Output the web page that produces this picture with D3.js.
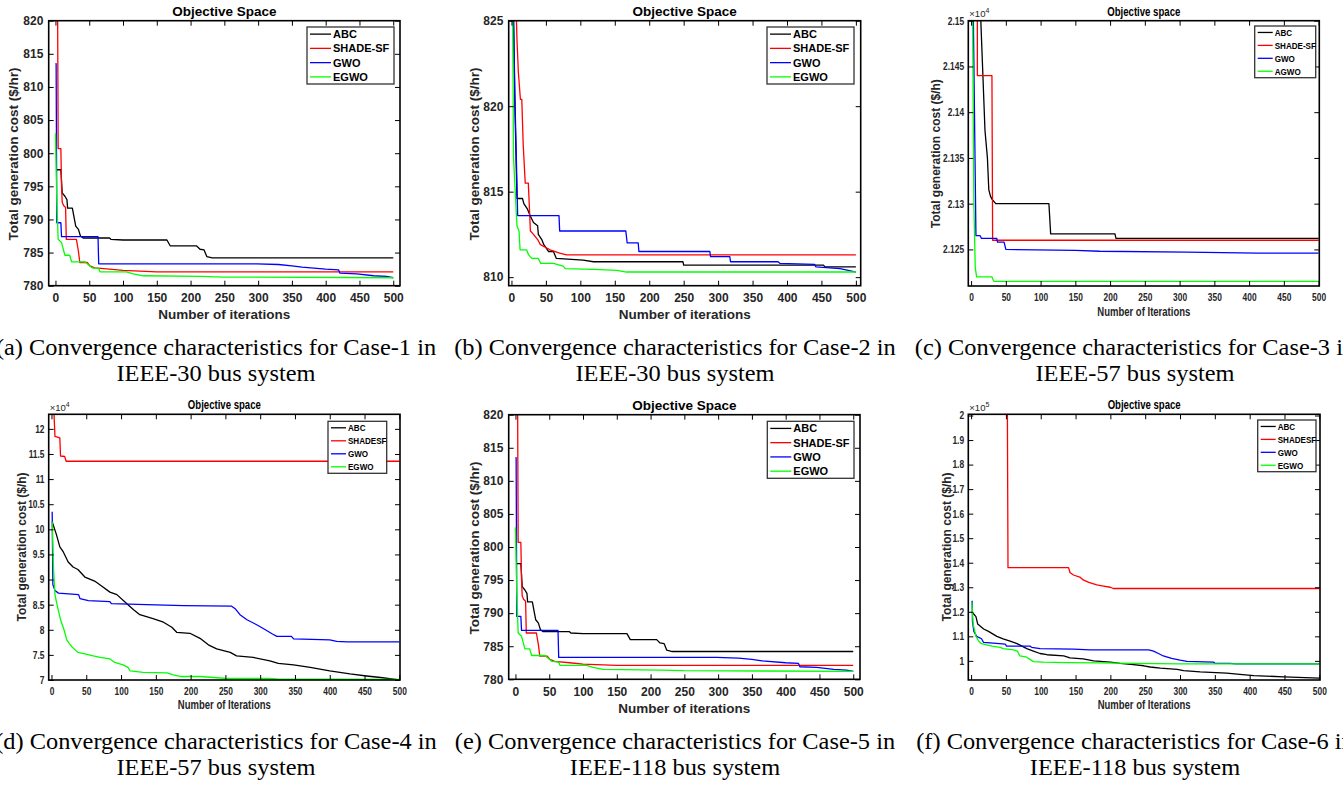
<!DOCTYPE html>
<html>
<head>
<meta charset="utf-8">
<script src="https://cdn.jsdelivr.net/npm/d3@7"></script>
<style>
  body { margin: 0; background: #fff; }
  svg { display: block; }
</style>
</head>
<body>
<div id="fig"></div>
<script>
// ---- data: [iteration, cost] ----
const colors = ["#000000", "#ff0000", "#0000ff", "#00ff00"];
const xTicks = [0, 50, 100, 150, 200, 250, 300, 350, 400, 450, 500];

// Case-1, IEEE-30
const case1ABC = [[1, 797.5], [8, 797.5], [10, 794], [14, 793.5], [17, 793], [18, 791.7], [25, 791.7], [30, 789], [34, 788.5], [37, 787.5], [41, 787.2], [80, 787.2], [82, 787.0], [100, 786.9], [165, 786.9], [170, 786.0], [209, 786.0], [214, 785.5], [220, 785.4], [224, 784.4], [232, 784.2], [500, 784.2]];
const case1SHADE = [[2.5, 840], [4, 800.7], [8, 800.7], [9, 795], [10, 792.6], [12, 792.1], [15, 791.8], [16, 787], [31, 787], [34, 785.2], [36, 783.5], [47, 783.5], [51, 783], [58, 782.7], [80, 782.5], [100, 782.3], [150, 782.1], [500, 782.1]];
const case1GWO = [[0, 813.5], [1, 813.5], [2, 789.5], [8, 789.5], [9, 787.4], [63, 787.4], [64, 783.3], [298, 783.3], [330, 783.2], [350, 783.0], [365, 782.8], [400, 782.5], [419, 782.4], [421, 781.9], [446, 781.8], [471, 781.5], [490, 781.4], [500, 781.2]];
const case1EGWO = [[0, 803], [2, 793], [4, 787], [9, 786.5], [14, 784.6], [21, 784.6], [24, 783.6], [44, 783.6], [47, 783.3], [54, 782.7], [64, 782.6], [66, 782.1], [105, 782.1], [115, 781.8], [130, 781.5], [214, 781.4], [249, 781.3], [500, 781.2]];
const case1Ticks = [780, 785, 790, 795, 800, 805, 810, 815, 820];

// Case-2, IEEE-30
const case2ABC = [[1, 830], [5, 820], [8, 814.6], [16, 814.6], [18, 814.3], [23, 814], [27, 813.6], [32, 813.2], [38, 813], [39, 812.5], [44, 812.2], [47, 811.9], [54, 811.5], [61, 811.5], [65, 811.1], [104, 811.0], [119, 810.9], [249, 810.9], [250, 810.7], [453, 810.7], [455, 810.6], [500, 810.6]];
const case2SHADE = [[4, 830], [8, 823.9], [10, 822], [13, 820.4], [15, 820.4], [17, 817.8], [20, 815.5], [24.5, 815.5], [27.5, 812.7], [32, 812.5], [38, 812.2], [42, 811.9], [56, 811.6], [70, 811.4], [80, 811.3], [500, 811.3]];
const case2GWO = [[1, 830], [5, 820.6], [9, 813.6], [69, 813.6], [70, 812.7], [166, 812.7], [168, 812.0], [184, 812.0], [185, 811.5], [288, 811.5], [289, 811.2], [317, 811.2], [318, 810.9], [387, 810.9], [390, 810.8], [440, 810.75], [442, 810.6], [477, 810.5], [489, 810.4], [500, 810.3]];
const case2EGWO = [[1, 830], [3, 817], [8, 813], [11, 812.7], [12.5, 811.6], [22, 811.6], [25, 811.3], [29.5, 811.1], [39, 811.1], [42.5, 810.8], [61, 810.8], [75, 810.65], [78, 810.5], [119, 810.45], [153, 810.4], [167, 810.3], [500, 810.3]];
const case2Ticks = [810, 815, 820, 825];

// Case-3, IEEE-57
const case3ABC = [[13, 21520], [15, 21480], [17, 21440], [20, 21380], [23.5, 21350], [25.5, 21315], [28, 21308], [30, 21305], [35.5, 21300], [112, 21300], [114.5, 21267], [207, 21267], [208.5, 21262], [500, 21262]];
const case3SHADE = [[9, 21520], [9, 21440], [30, 21440], [31, 21260], [500, 21260]];
const case3GWO = [[3, 21520], [7, 21265], [13, 21265], [15, 21262], [37, 21262], [38, 21258], [47.5, 21258], [50, 21250], [150, 21249], [185, 21248], [310, 21247], [413, 21246], [500, 21246]];
const case3AGWO = [[2, 21520], [4, 21300], [6, 21230], [8, 21220], [30, 21220], [31, 21218], [33, 21215], [500, 21215]];
const case3Ticks = [21250, 21300, 21350, 21400, 21450, 21500];

// Case-4, IEEE-57
const case4ABC = [[1, 101500], [7, 99000], [12, 96500], [17, 95500], [24, 93500], [31, 92500], [38, 92000], [48, 90500], [62, 89700], [72, 88700], [84, 87500], [94, 87000], [106, 85500], [118, 84000], [127, 83000], [146, 82200], [161, 81500], [173, 80500], [180, 79500], [199, 79300], [213.5, 78300], [225.5, 77000], [237.5, 76200], [257, 75500], [266, 74800], [290, 74500], [314, 73800], [326, 73300], [348, 73000], [372, 72500], [400, 71800], [429, 71200], [453, 70800], [473, 70500], [500, 70000]];
const case4SHADE = [[3, 125000], [5, 118500], [12, 118200], [13, 114600], [19, 114500], [21, 113550], [500, 113550]];
const case4GWO = [[1, 103500], [2, 89000], [5, 87800], [10, 87300], [39, 87000], [41, 86200], [53, 85800], [84, 85600], [86, 85200], [137, 85000], [190, 84800], [259, 84700], [264, 84200], [271, 83000], [281, 82000], [295, 81000], [305, 80200], [317, 79200], [324, 78700], [345, 78700], [348, 78200], [400, 78000], [410, 77700], [425, 77600], [500, 77600]];
const case4EGWO = [[1, 101500], [3, 92000], [5, 87000], [8, 85000], [13, 82000], [18, 80000], [22, 78000], [26, 77200], [30, 76500], [34, 76000], [38, 75500], [48, 75200], [60, 74800], [70, 74500], [84, 74200], [91, 73500], [103, 73000], [110, 72500], [113, 71800], [132, 71500], [166, 71400], [175, 71000], [185, 70700], [214, 70700], [233, 70500], [252, 70300], [310, 70300], [324, 70200], [500, 70100]];
const case4Ticks = [70000, 75000, 80000, 85000, 90000, 95000, 100000, 105000, 110000, 115000, 120000];

// Case-5, IEEE-118 (same curves as case-1 in the picture)
const case5ABC = case1ABC;
const case5SHADE = case1SHADE;
const case5GWO = case1GWO;
const case5EGWO = case1EGWO;

// Case-6, IEEE-118
const case6ABC = [[1, 120000], [7, 118000], [9.5, 115000], [18, 113000], [25, 112000], [37, 110000], [46, 109000], [56, 108000], [66, 107000], [73, 106000], [80, 105000], [89.5, 104000], [99, 103000], [109, 102500], [133, 102000], [142, 101200], [161, 100800], [176, 100000], [200, 99500], [214, 99000], [233, 98500], [248, 98000], [257, 97500], [272, 97000], [296, 96500], [305, 96000], [329, 95500], [367, 95000], [386, 94500], [406, 94000], [449, 93500], [500, 93000]];
const case6SHADE = [[52, 210000], [53, 138000], [140, 138000], [142, 136000], [147, 135000], [157, 134000], [161, 133000], [169, 132000], [180.5, 131000], [190, 130500], [200, 130000], [204, 129500], [500, 129500]];
const case6GWO = [[1.5, 124500], [2, 116000], [4, 112000], [8, 110000], [15, 109000], [18, 107500], [32, 107200], [49, 106800], [51, 106000], [85, 106000], [87, 105500], [99, 105000], [147, 104800], [171, 104500], [255, 104500], [262, 104000], [269, 103000], [276, 102000], [288, 101000], [300, 100300], [310, 99800], [348, 99500], [350, 99000], [372, 99000], [380, 98800], [500, 98800]];
const case6EGWO = [[1, 124000], [3, 115000], [7, 110000], [11, 108000], [15, 107000], [22.5, 106500], [30, 106000], [42, 105500], [46, 105000], [61, 104500], [66.5, 104000], [70, 102000], [80, 101500], [85, 100500], [89.5, 99700], [104, 99500], [137, 99300], [185, 99200], [233, 99000], [300, 98800], [500, 98800]];
const case6Ticks = [100000, 110000, 120000, 130000, 140000, 150000, 160000, 170000, 180000, 190000, 200000];

const captions = [
  ["(a) Convergence characteristics for Case-1 in", "IEEE-30 bus system"],
  ["(b) Convergence characteristics for Case-2 in", "IEEE-30 bus system"],
  ["(c) Convergence characteristics for Case-3 in", "IEEE-57 bus system"],
  ["(d) Convergence characteristics for Case-4 in", "IEEE-57 bus system"],
  ["(e) Convergence characteristics for Case-5 in", "IEEE-118 bus system"],
  ["(f) Convergence characteristics for Case-6 in", "IEEE-118 bus system"]
];

// ---- layout of each panel ----
const big = { tick: 12, lab: 13.5, leg: 11, sx: 1, yPad: 5.4, legLine: 21 };
const small = { tick: 10.5, lab: 12.5, leg: 9.5, sx: 0.8, yPad: 4.2, legLine: 15 };

const panels = [
  { series: [case1ABC, case1SHADE, case1GWO, case1EGWO], names: ["ABC", "SHADE-SF", "GWO", "EGWO"],
    L: 48.7, T: 20.7, R: 400, B: 285.7, xDom: [-10, 510], yDom: [780, 820], yTicks: case1Ticks, fmt: d3.format("d"),
    title: "Objective Space", xlab: "Number of iterations", ylab: "Total generation cost ($/hr)",
    titleY: 15.5, xlabY: 319, ylabX: 13.5, ylabY: 154, xPad: 7.5, leg: [307, 27, 394, 84], st: big },
  { series: [case2ABC, case2SHADE, case2GWO, case2EGWO], names: ["ABC", "SHADE-SF", "GWO", "EGWO"],
    L: 508.7, T: 20.7, R: 860.7, B: 285.7, xDom: [-4, 507], yDom: [809.5, 825], yTicks: case2Ticks, fmt: d3.format("d"),
    title: "Objective Space", xlab: "Number of iterations", ylab: "Total generation cost ($/hr)",
    titleY: 15.5, xlabY: 319, ylabX: 474, ylabY: 154, xPad: 7.5, leg: [767, 27, 854, 84], st: big },
  { series: [case3ABC, case3SHADE, case3GWO, case3AGWO], names: ["ABC", "SHADE-SF", "GWO", "AGWO"],
    L: 968.3, T: 20.7, R: 1319.3, B: 286, xDom: [-4, 501], yDom: [21210, 21500], yTicks: case3Ticks, fmt: d => +(d / 1e4).toFixed(3),
    exp: "4", title: "Objective space", xlab: "Number of Iterations", ylab: "Total generation cost ($/h)",
    titleY: 15.7, xlabY: 316, ylabX: 936, ylabY: 153.7, xPad: 7.5, leg: [1254.7, 26, 1315.7, 77.7], st: small },
  { series: [case4ABC, case4SHADE, case4GWO, case4EGWO], names: ["ABC", "SHADESF", "GWO", "EGWO"],
    L: 48.7, T: 414.3, R: 400, B: 680, xDom: [-4, 501], yDom: [70000, 122900], yTicks: case4Ticks, fmt: d => +(d / 1e4).toFixed(1),
    exp: "4", title: "Objective space", xlab: "Number of Iterations", ylab: "Total generation cost ($/h)",
    titleY: 409.3, xlabY: 709.3, ylabX: 21.7, ylabY: 547, xPad: 7.5, leg: [328, 421.3, 386.7, 473.3], st: small },
  { series: [case5ABC, case5SHADE, case5GWO, case5EGWO], names: ["ABC", "SHADE-SF", "GWO", "EGWO"],
    L: 508.7, T: 414.7, R: 860, B: 679.3, xDom: [-10, 510], yDom: [780, 820], yTicks: case1Ticks, fmt: d3.format("d"),
    title: "Objective Space", xlab: "Number of iterations", ylab: "Total generation cost ($/hr)",
    titleY: 409.5, xlabY: 713.3, ylabX: 474, ylabY: 548, xPad: 8.2, leg: [767.3, 421.3, 854, 478.3], st: big },
  { series: [case6ABC, case6SHADE, case6GWO, case6EGWO], names: ["ABC", "SHADESF", "GWO", "EGWO"],
    L: 968.3, T: 414.3, R: 1320, B: 680, xDom: [-4, 501], yDom: [92200, 200500], yTicks: case6Ticks, fmt: d => +(d / 1e5).toFixed(1),
    exp: "5", title: "Objective space", xlab: "Number of Iterations", ylab: "Total generation cost ($/h)",
    titleY: 409.3, xlabY: 709.3, ylabX: 946.7, ylabY: 547, xPad: 7.5, leg: [1257.7, 420, 1316, 471.7], st: small }
];

const W = 1343, H = 787;
const sans = "'Liberation Sans', Arial, Helvetica, sans-serif";
const svg = d3.select("#fig").append("svg").attr("width", W).attr("height", H);

function drawPanel(p, i) {
  const st = p.st;
  const g = svg.append("g");
  const x = d3.scaleLinear().domain(p.xDom).range([p.L, p.R]);
  const y = d3.scaleLinear().domain(p.yDom).range([p.B, p.T]);

  g.append("rect").attr("x", p.L).attr("y", p.T).attr("width", p.R - p.L).attr("height", p.B - p.T).attr("fill", "#fff");

  svg.append("clipPath").attr("id", "clip" + i)
    .append("rect").attr("x", p.L).attr("y", p.T).attr("width", p.R - p.L).attr("height", p.B - p.T);

  const line = d3.line().x(d => x(d[0])).y(d => y(d[1]));
  g.append("g").attr("clip-path", `url(#clip${i})`)
    .selectAll("path").data(p.series).enter()
    .append("path")
    .attr("d", line)
    .attr("fill", "none")
    .attr("stroke", (d, k) => colors[k])
    .attr("stroke-width", 1.3)
    .attr("stroke-linejoin", "round");

  // axes, ticks pointing inward on all four sides
  const style = sel => {
    sel.select(".domain").remove();
    sel.selectAll(".tick line").attr("stroke", "#000").attr("stroke-width", 1);
    sel.attr("font-family", sans).attr("font-size", st.tick).attr("font-weight", "bold");
    sel.selectAll(".tick text").attr("fill", "#262626");
  };
  const bottom = g.append("g").attr("transform", `translate(0,${p.B})`)
    .call(d3.axisBottom(x).tickValues(xTicks).tickSize(-5).tickPadding(p.xPad).tickFormat(d3.format("d")))
    .call(style);
  const left = g.append("g").attr("transform", `translate(${p.L},0)`)
    .call(d3.axisLeft(y).tickValues(p.yTicks).tickSize(-5).tickPadding(st.yPad / st.sx).tickFormat(p.fmt))
    .call(style);
  if (st.sx !== 1) {
    bottom.selectAll(".tick text").attr("transform", `scale(${st.sx},1)`);
    left.selectAll(".tick text").attr("transform", `scale(${st.sx},1)`);
  }
  g.append("g").attr("transform", `translate(0,${p.T})`)
    .call(d3.axisTop(x).tickValues(xTicks).tickSize(-5).tickFormat(""))
    .call(style);
  g.append("g").attr("transform", `translate(${p.R},0)`)
    .call(d3.axisRight(y).tickValues(p.yTicks).tickSize(-5).tickFormat(""))
    .call(style);

  g.append("rect").attr("x", p.L).attr("y", p.T).attr("width", p.R - p.L).attr("height", p.B - p.T)
    .attr("fill", "none").attr("stroke", "#000").attr("stroke-width", 1.6);

  const cx = (p.L + p.R) / 2;
  const t = g.append("text").attr("x", cx).attr("y", p.titleY).attr("text-anchor", "middle")
    .attr("font-family", sans).attr("font-weight", "bold").attr("font-size", st.lab).text(p.title);
  const xl = g.append("text").attr("x", cx).attr("y", p.xlabY).attr("text-anchor", "middle")
    .attr("font-family", sans).attr("font-weight", "bold").attr("font-size", st.lab).attr("fill", "#262626").text(p.xlab);
  if (st.sx !== 1) {
    t.attr("textLength", 73).attr("lengthAdjust", "spacingAndGlyphs");
    xl.attr("textLength", 93).attr("lengthAdjust", "spacingAndGlyphs");
  }
  g.append("text").attr("transform", `translate(${p.ylabX},${p.ylabY}) rotate(-90)`)
    .attr("dy", "0.35em").attr("text-anchor", "middle")
    .attr("font-family", sans).attr("font-weight", "bold").attr("font-size", st.sx === 1 ? st.lab : 12)
    .attr("fill", "#262626").text(p.ylab);

  if (p.exp) {
    const e = g.append("text").attr("x", p.L + 1).attr("y", p.T - 3.5)
      .attr("font-family", sans).attr("font-size", 9.5).attr("fill", "#262626");
    e.append("tspan").text("\u00d710");
    e.append("tspan").attr("dy", -4).attr("font-size", 7).text(p.exp);
  }

  // legend
  const [lx0, ly0, lx1, ly1] = p.leg;
  const lg = g.append("g");
  lg.append("rect").attr("x", lx0).attr("y", ly0).attr("width", lx1 - lx0).attr("height", ly1 - ly0)
    .attr("fill", "#fff").attr("stroke", "#333").attr("stroke-width", 1.3);
  const rowH = (ly1 - ly0) / 4;
  p.names.forEach((name, k) => {
    const ry = ly0 + rowH * (k + 0.5);
    lg.append("line").attr("x1", lx0 + 3).attr("x2", lx0 + 3 + st.legLine).attr("y1", ry).attr("y2", ry)
      .attr("stroke", colors[k]).attr("stroke-width", 1.3);
    const tx0 = lx0 + 5 + st.legLine;
    const tx = lg.append("text").attr("x", tx0).attr("y", ry).attr("dy", "0.36em")
      .attr("font-family", sans).attr("font-weight", "bold").attr("font-size", st.leg).text(name);
    if (st.sx !== 1) {
      tx.attr("transform", `translate(${tx0},0) scale(0.85,1) translate(${-tx0},0)`);
    }
  });
}

panels.forEach(drawPanel);

// captions (Times-like text, set a little wider than the font's natural width)
const capX = [216, 675, 1135];
const capY = [[355, 381], [749, 775]];
captions.forEach((c, i) => {
  const col = i % 3, row = Math.floor(i / 3);
  c.forEach((txt, j) => {
    const ct = svg.append("text").attr("x", capX[col]).attr("y", capY[row][j]).attr("text-anchor", "middle")
      .attr("font-family", "'Liberation Serif', 'Times New Roman', Times, serif").attr("font-size", 23)
      .attr("fill", "#000").text(txt);
    const len = ct.node().getComputedTextLength();
    ct.attr("textLength", len * 1.06).attr("lengthAdjust", "spacingAndGlyphs");
  });
});
</script>
</body>
</html>
